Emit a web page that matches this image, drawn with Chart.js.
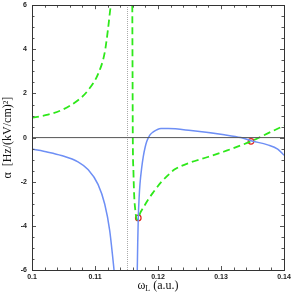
<!DOCTYPE html>
<html>
<head>
<meta charset="utf-8">
<script src="https://cdn.jsdelivr.net/npm/chart.js@4/dist/chart.umd.min.js"></script>
<style>
  body { margin: 0; background: #fff; }
  #wrap { width: 291px; height: 296px; }
</style>
</head>
<body>
<div id="wrap"><canvas id="alphaChart"></canvas></div>
<script>
// polarizability curves (x = omega_L in a.u., y = alpha)
const blueLeftX = [0.1, 0.10254, 0.10465, 0.1073, 0.10889, 0.11048, 0.11154, 0.11233, 0.11286, 0.11302];
const blueLeftY = [-0.52, -0.66, -0.81, -1.1, -1.45, -2.12, -3.01, -4.2, -5.55, -6];
const blueRightX = [0.11671, 0.11678, 0.11687, 0.117, 0.11714, 0.11741, 0.11767, 0.11795, 0.11821, 0.11873, 0.11925, 0.11979, 0.12048, 0.12163, 0.12524, 0.13052, 0.13317, 0.13476, 0.13741, 0.139, 0.14];
const blueRightY = [-6, -4.8, -3.64, -2.75, -2.1, -1.37, -0.85, -0.45, -0.18, 0.12, 0.26, 0.35, 0.41, 0.41, 0.32, 0.13, 0, -0.14, -0.33, -0.52, -0.8];
const greenLeftX = [0.1, 0.10254, 0.10465, 0.1073, 0.10889, 0.11048, 0.11154, 0.11206, 0.11249, 0.11254];
const greenLeftY = [0.9, 1.04, 1.24, 1.69, 2.14, 2.88, 3.85, 4.9, 5.94, 6];
const greenRightX = [0.11592, 0.11596, 0.116, 0.1161, 0.1162, 0.1164, 0.11665, 0.11687, 0.1172, 0.11767, 0.1185, 0.11925, 0.1205, 0.1219, 0.1226, 0.1252, 0.1279, 0.1305, 0.13476, 0.13741, 0.14];
const greenRightY = [6, 3, 0, -1.5, -2.5, -3.3, -3.72, -3.64, -3.4, -3.17, -2.78, -2.48, -2.02, -1.62, -1.45, -1.12, -0.88, -0.63, -0.17, 0.19, 0.54];
const crossX = [0.11687, 0.13476];
const crossY = [-3.64, -0.17];
const resonanceX = 0.11516;

const xTicks = [0.1, 0.11, 0.12, 0.13, 0.14];
const xTickLabels = ['0.1', '0.11', '0.12', '0.13', '0.14'];
const yTicks = [-6, -4, -2, 0, 2, 4, 6];
const yTickLabels = ['-6', '-4', '-2', '0', '2', '4', '6'];

function pts(xs, ys) {
  return xs.map((x, i) => ({ x: x, y: ys[i] }));
}

// frame, inward ticks, tick labels and axis titles
const framePlugin = {
  id: 'frame',
  afterDraw(chart) {
    const ctx = chart.ctx;
    const a = chart.chartArea;
    const sx = chart.scales.x, sy = chart.scales.y;
    ctx.save();
    ctx.strokeStyle = '#555';
    ctx.lineWidth = 1;
    ctx.beginPath();
    for (let i = 0; i <= 20; i++) {
      const v = 0.1 + i * 0.002;
      const px = Math.round(sx.getPixelForValue(v)) + 0.5;
      const len = i % 5 === 0 ? 4 : 2.5;
      ctx.moveTo(px, a.bottom); ctx.lineTo(px, a.bottom - len);
      ctx.moveTo(px, a.top); ctx.lineTo(px, a.top + len);
    }
    for (let i = 0; i <= 24; i++) {
      const v = -6 + i * 0.5;
      const py = Math.round(sy.getPixelForValue(v)) + 0.5;
      const len = i % 4 === 0 ? 4 : 2.5;
      ctx.moveTo(a.left, py); ctx.lineTo(a.left + len, py);
      ctx.moveTo(a.right, py); ctx.lineTo(a.right - len, py);
    }
    ctx.stroke();
    ctx.strokeStyle = '#333';
    ctx.strokeRect(Math.round(a.left) + 0.5, Math.round(a.top) + 0.5,
      Math.round(a.right - a.left), Math.round(a.bottom - a.top));

    // tick labels
    ctx.fillStyle = '#222';
    ctx.font = 'bold 7px "Liberation Sans"';
    ctx.textAlign = 'center';
    ctx.textBaseline = 'top';
    xTicks.forEach((v, i) => ctx.fillText(xTickLabels[i], sx.getPixelForValue(v), a.bottom + 4));
    ctx.textAlign = 'right';
    ctx.textBaseline = 'middle';
    yTicks.forEach((v, i) => ctx.fillText(yTickLabels[i], a.left - 5, sy.getPixelForValue(v)));

    // x title: omega_L (a.u.)
    ctx.fillStyle = '#111';
    ctx.textAlign = 'left';
    ctx.textBaseline = 'alphabetic';
    const big = '12px "Liberation Serif"';
    const small = '8px "Liberation Serif"';
    ctx.font = big;
    const w1 = ctx.measureText('\u03c9').width;
    const w3 = ctx.measureText(' (a.u.)').width;
    ctx.font = small;
    const w2 = ctx.measureText('L').width;
    const x0 = (a.left + a.right) / 2 - (w1 + w2 + w3) / 2;
    const base = 289;
    ctx.font = big;
    ctx.fillText('\u03c9', x0, base);
    ctx.font = small;
    ctx.fillText('L', x0 + w1, base + 2);
    ctx.font = big;
    ctx.fillText(' (a.u.)', x0 + w1 + w2, base);

    // y title
    ctx.translate(8, (a.top + a.bottom) / 2);
    ctx.rotate(-Math.PI / 2);
    ctx.font = '12px "Liberation Serif"';
    ctx.textAlign = 'center';
    ctx.textBaseline = 'middle';
    ctx.fillText('\u03b1  [Hz/(kV/cm)\u00b2]', 0, 0);
    ctx.restore();
  }
};

new Chart(document.getElementById('alphaChart'), {
  type: 'scatter',
  data: {
    datasets: [
      { data: [{ x: 0.1, y: 0 }, { x: 0.14, y: 0 }], showLine: true, borderColor: '#555', borderWidth: 1, pointRadius: 0 },
      { data: [{ x: resonanceX, y: -6 }, { x: resonanceX, y: 6 }], showLine: true, borderColor: '#aaa', borderWidth: 1, borderDash: [1, 1], pointRadius: 0 },
      { data: pts(blueLeftX, blueLeftY), showLine: true, borderColor: '#6e8ff5', borderWidth: 1.5, pointRadius: 0, cubicInterpolationMode: 'monotone' },
      { data: pts(blueRightX, blueRightY), showLine: true, borderColor: '#6e8ff5', borderWidth: 1.5, pointRadius: 0, cubicInterpolationMode: 'monotone' },
      { data: pts(greenLeftX, greenLeftY), showLine: true, borderColor: '#2ee81a', borderWidth: 1.8, borderDash: [7, 4], pointRadius: 0, cubicInterpolationMode: 'monotone' },
      { data: pts(greenRightX, greenRightY), showLine: true, borderColor: '#2ee81a', borderWidth: 1.8, borderDash: [7, 4], pointRadius: 0, cubicInterpolationMode: 'monotone' },
      { data: pts(crossX, crossY), showLine: false, pointRadius: 2.8, borderColor: '#e0201a', borderWidth: 1.2, backgroundColor: 'rgba(0,0,0,0)' }
    ]
  },
  options: {
    responsive: true,
    maintainAspectRatio: false,
    animation: false,
    layout: { padding: { top: 2, right: 7, left: 0, bottom: 0 } },
    plugins: { legend: { display: false }, tooltip: { enabled: false } },
    scales: {
      x: {
        type: 'linear', min: 0.1, max: 0.14,
        grid: { display: false, drawTicks: false },
        border: { display: false },
        ticks: { display: false },
        afterFit: s => { s.height = 26; }
      },
      y: {
        type: 'linear', min: -6, max: 6,
        grid: { display: false, drawTicks: false },
        border: { display: false },
        ticks: { display: false },
        afterFit: s => { s.width = 32; }
      }
    }
  },
  plugins: [framePlugin]
});
</script>
</body>
</html>
